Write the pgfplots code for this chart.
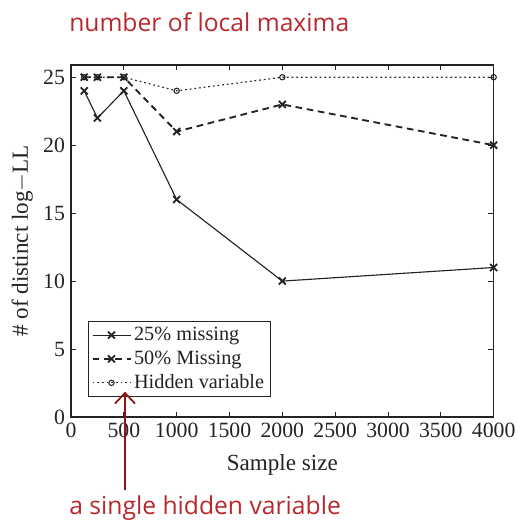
\documentclass[border=0pt]{standalone}
\usepackage{pgfplots}
\pgfplotsset{compat=1.18}
\usepackage{fontspec}
\setmainfont{Liberation Serif}
\newfontfamily\annot{Open Sans}
\usetikzlibrary{arrows.meta}
\definecolor{annred}{RGB}{185,40,45}
\definecolor{arrred}{RGB}{140,20,22}
\definecolor{ink}{RGB}{35,35,35}
\begin{document}
\begin{tikzpicture}
\useasboundingbox (-53.25pt,-78pt) rectangle (334.5pt,312.75pt);
\begin{axis}[
  at={(0pt,0pt)}, anchor=south west,
  scale only axis, width=317pt, height=264pt,
  xmin=0, xmax=4000, ymin=0, ymax=25.9,
  xtick={0,500,...,4000}, ytick={0,5,...,25},
  tick align=inside, major tick length=4pt,
  axis line style={ink, line width=0.9pt},
  every tick/.style={ink, line width=0.6pt},
  scaled x ticks=false,
  /pgf/number format/assume math mode=true,
  /pgf/number format/set thousands separator={},
  tick label style={font=\fontsize{16.3}{18}\selectfont, text=ink},
  xticklabel style={yshift=-1pt},
  yticklabel style={xshift=-1pt},
  label style={font=\fontsize{17.3}{19}\selectfont, text=ink},
  xlabel={Sample size},
  ylabel={\# of distinct log$-$LL},
  xlabel style={yshift=-6pt},
  ylabel style={yshift=1pt},
  legend style={at={(rel axis cs:0.04,0.056)}, anchor=south west,
    draw=ink, line width=0.6pt, font=\fontsize{15.2}{17}\selectfont,
    inner sep=2.5pt, row sep=2.2pt, text=ink},
  legend cell align=left,
  legend image code/.code={\draw[mark repeat=2,mark phase=2,#1] plot coordinates {(0cm,0cm) (0.5cm,0cm) (1cm,0cm)};},
  clip=false,
]
\addplot[ink, line width=0.85pt, mark=x, mark size=3.7pt, mark options={solid, line width=1.35pt}]
  coordinates {(125,24) (250,22) (500,24) (1000,16) (2000,10) (4000,11)};
\addlegendentry{25\% missing}
\addplot[ink, line width=1.4pt, dash pattern=on 5pt off 3.5pt, mark=x, mark size=3.7pt, mark options={solid, line width=1.35pt}]
  coordinates {(125,25) (250,25) (500,25) (1000,21) (2000,23) (4000,20)};
\addlegendentry{50\% Missing}
\addplot[ink, line width=0.85pt, dash pattern=on 1.3pt off 2.2pt, mark=o, mark size=2pt, mark options={solid, line width=0.8pt, fill=white}]
  coordinates {(125,25) (250,25) (500,25) (1000,24) (2000,25) (4000,25)};
\addlegendentry{Hidden variable}
\end{axis}
\node[anchor=west, text=annred, font=\annot\fontsize{18.5}{20}\selectfont, inner sep=0pt] at (-1.5pt,296pt) {number of local maxima};
\node[anchor=west, text=annred, font=\annot\fontsize{18.5}{20}\selectfont, inner sep=0pt] at (-1.5pt,-68.5pt) {a single hidden variable};
\draw[arrred, line width=1.5pt, -{Straight Barb[length=8pt,width=15pt,line width=1.3pt]}] (40.5pt,-55pt) -- (40.5pt,19pt);
\end{tikzpicture}
\end{document}
